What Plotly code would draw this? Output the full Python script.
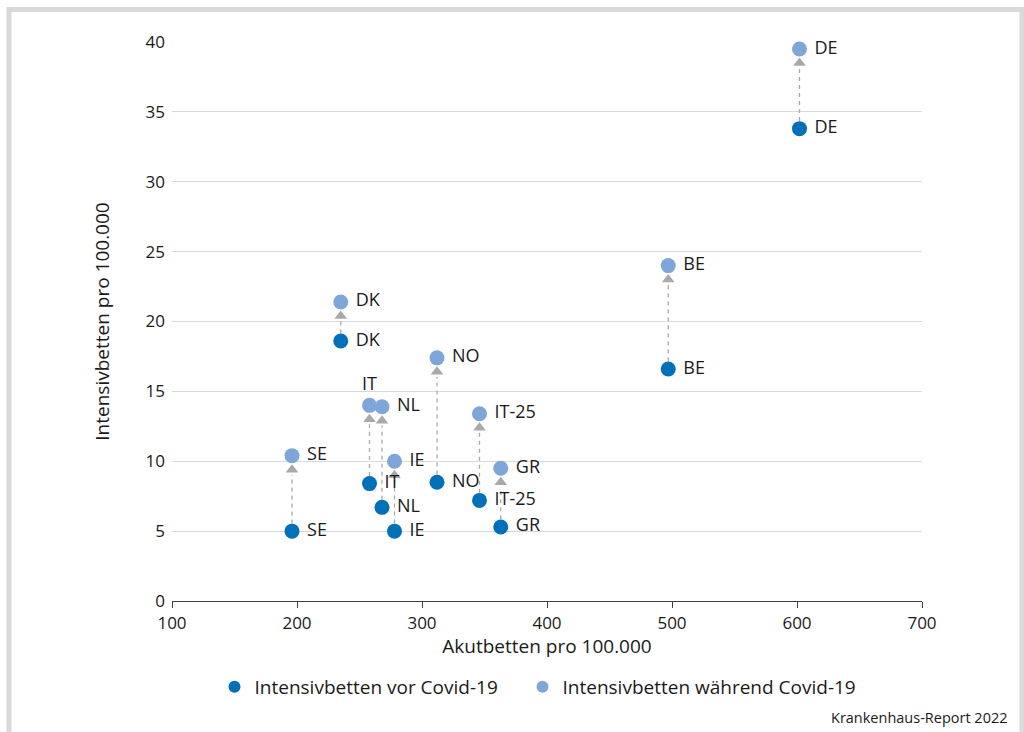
import plotly.graph_objects as go

countries = ["DE", "BE", "DK", "NO", "IT", "NL", "IE", "SE", "IT-25", "GR"]
akutbetten = [602, 497, 235, 312, 258, 268, 278, 196, 346, 363]
icu_before = [33.8, 16.6, 18.6, 8.5, 8.4, 6.7, 5.0, 5.0, 7.2, 5.3]
icu_during = [39.5, 24.0, 21.4, 17.4, 14.0, 13.9, 10.0, 10.4, 13.4, 9.5]

C_BEFORE = "#0071b9"
C_AFTER = "#7ea6d8"
C_ARROW = "#a9a9a9"
FONT = "Open Sans"
TXT = "#1a1a1a"

fig = go.Figure()

# dashed connectors and arrowheads
for x, b, a in zip(akutbetten, icu_before, icu_during):
    fig.add_trace(go.Scatter(
        x=[x, x], y=[b + 0.55, a - 1.35], mode="lines",
        line=dict(color=C_ARROW, width=1.3, dash="4px,4px"),
        showlegend=False, hoverinfo="skip"))
fig.add_trace(go.Scatter(
    x=akutbetten, y=[a - 1.0 for a in icu_during], mode="markers",
    marker=dict(symbol="triangle-up", size=11, color=C_ARROW),
    showlegend=False, hoverinfo="skip"))

labels_before = [" " + c for c in countries]
labels_after = [" " + c for c in countries]
pos_before = ["middle right"] * len(countries)
pos_after = ["middle right"] * len(countries)
i_it = countries.index("IT")
pos_after[i_it] = "top center"
labels_after[i_it] = countries[i_it]

fig.add_trace(go.Scatter(
    x=akutbetten, y=icu_before, mode="markers+text",
    text=labels_before, textposition=pos_before,
    textfont=dict(family=FONT, size=18, color=TXT),
    marker=dict(size=15, color=C_BEFORE), cliponaxis=False,
    name="Intensivbetten vor Covid-19" + "\u00a0" * 4))
fig.add_trace(go.Scatter(
    x=akutbetten, y=icu_during, mode="markers+text",
    text=labels_after, textposition=pos_after,
    textfont=dict(family=FONT, size=18, color=TXT),
    marker=dict(size=15, color=C_AFTER), cliponaxis=False,
    name="Intensivbetten während Covid-19"))

# outer frame
fig.add_shape(type="rect", xref="paper", yref="paper",
              x0=-0.2173, x1=1.1333, y0=-0.26, y1=1.0581,
              line=dict(color="#d9d9d9", width=5), layer="below")

fig.add_annotation(text="Krankenhaus-Report 2022", xref="paper", yref="paper",
                   x=1.1173, y=-0.2093, xanchor="right", yanchor="middle",
                   showarrow=False, font=dict(family=FONT, size=14.5, color=TXT))

fig.update_layout(
    width=1024, height=732,
    margin=dict(l=172, r=102, t=42, b=131),
    paper_bgcolor="white", plot_bgcolor="white",
    font=dict(family=FONT, size=16, color=TXT),
    showlegend=True,
    legend=dict(orientation="h", x=0.488, xanchor="center", y=-0.1538, yanchor="middle",
                font=dict(family=FONT, size=19, color=TXT), itemsizing="constant"),
    xaxis=dict(range=[100, 700], dtick=100, showgrid=False, zeroline=False,
               showline=True, linecolor="#404040", linewidth=1.2,
               ticks="outside", ticklen=6, tickcolor="#404040",
               tickfont=dict(size=17),
               title=dict(text="Akutbetten pro 100.000", font=dict(size=19), standoff=6)),
    yaxis=dict(range=[0, 40], dtick=5, showgrid=True, gridcolor="#d9d9d9", gridwidth=1,
               zeroline=False, showline=False, ticks="", ticklabelstandoff=6,
               tickfont=dict(size=17),
               title=dict(text="Intensivbetten pro 100.000", font=dict(size=19), standoff=30)),
)

fig.write_html("out.html")
